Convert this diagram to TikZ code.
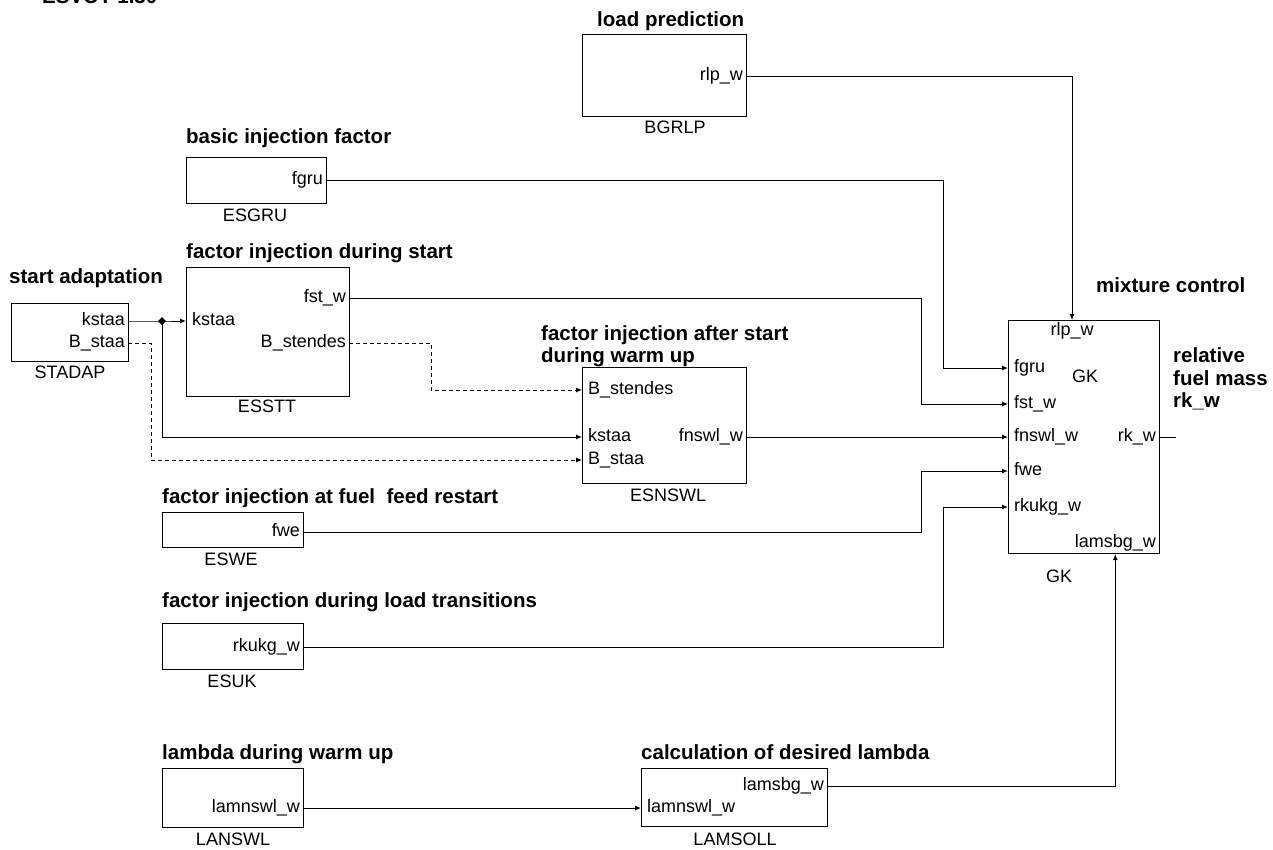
\documentclass[tikz,border=0pt]{standalone}
\usepackage{fontspec}
\setmainfont{Liberation Sans}
\usetikzlibrary{arrows.meta}

\begin{document}
\begin{tikzpicture}[x=1pt, y=-1pt,
  blk/.style={draw, line width=1.2pt, anchor=north west, inner sep=0pt},
  lbl/.style={font=\fontsize{18}{20}\selectfont, inner ysep=0pt, text height=13pt, text depth=4pt},
  sigout/.style={lbl, anchor=east, inner xsep=3pt},
  sigin/.style={lbl, anchor=west, inner xsep=6pt},
  ttl/.style={font=\fontsize{20.5}{23}\selectfont\bfseries, anchor=base west, inner sep=0pt},
  nam/.style={font=\fontsize{18}{20}\selectfont, anchor=base, inner sep=0pt},
  sig/.style={line width=1pt},
  arr/.style={sig, -{Latex[length=6pt,width=5pt]}},
  dsh/.style={arr, dash pattern=on 4pt off 3pt}]
  \useasboundingbox (0,0) rectangle (1273,849);
  \clip (0,0) rectangle (1273,849);
  \node[ttl] (ttop) at (42,3) {ESVOT 1.30};

  % blocks
  \node[blk, minimum width=164pt, minimum height=82pt] (bgrlp) at (582,34) {};
  \node[blk, minimum width=140pt, minimum height=46pt] (esgru) at (186,157) {};
  \node[blk, minimum width=163pt, minimum height=129pt] (esstt) at (186,267) {};
  \node[blk, minimum width=117pt, minimum height=58pt] (stadap) at (11,303) {};
  \node[blk, minimum width=164pt, minimum height=116pt] (esnswl) at (582,367) {};
  \node[blk, minimum width=151pt, minimum height=233pt] (gk) at (1008,320) {};
  \node[blk, minimum width=141pt, minimum height=35pt] (eswe) at (162,512) {};
  \node[blk, minimum width=141pt, minimum height=46pt] (esuk) at (162,623) {};
  \node[blk, minimum width=141pt, minimum height=59pt] (lanswl) at (162,768) {};
  \node[blk, minimum width=186pt, minimum height=58pt] (lamsoll) at (641,768) {};

  % titles
  \node[ttl] (t-bgrlp) at (597,26) {load prediction};
  \node[ttl] (t-esgru) at (186,143) {basic injection factor};
  \node[ttl] (t-esstt) at (186,258) {factor injection during start};
  \node[ttl] (t-stadap) at (9,283) {start adaptation};
  \node[ttl] (t-esnswl) at (541,340) {factor injection after start};
  \node[ttl] (t-esnswl2) at (541,362) {during warm up};
  \node[ttl] (t-gk) at (1096,292) {mixture control};
  \node[ttl] (t-rk1) at (1173,362) {relative};
  \node[ttl] (t-rk2) at (1173,385) {fuel mass};
  \node[ttl] (t-rk3) at (1173,407) {rk\_w};
  \node[ttl] (t-eswe) at (162,503) {factor injection at fuel\ \ feed restart};
  \node[ttl] (t-esuk) at (162,607) {factor injection during load transitions};
  \node[ttl] (t-lanswl) at (162,759) {lambda during warm up};
  \node[ttl] (t-lamsoll) at (641,759) {calculation of desired lambda};

  % names below the blocks
  \foreach \nm/\x/\y in {BGRLP/675/133, ESGRU/255/221, ESSTT/267/412, STADAP/70/378,
      ESNSWL/668/501, GK/1059/582, ESWE/231/565, ESUK/232/687, LANSWL/233/845, LAMSOLL/735/845}
    \node[nam] (n-\nm) at (\x,\y) {\nm};
  \node[lbl] (gk-name) at (1085,378) {GK};

  % outputs
  \node[sigout] (bgrlp-rlp) at (746,76) {rlp\_w};
  \node[sigout] (esgru-fgru) at (326,180) {fgru};
  \node[sigout] (esstt-fst) at (349,298) {fst\_w};
  \node[sigout] (esstt-bst) at (349,343) {B\_stendes};
  \node[sigout] (stadap-kstaa) at (128,321) {kstaa};
  \node[sigout] (stadap-bstaa) at (128,343) {B\_staa};
  \node[sigout] (esnswl-fnswl) at (746,437) {fnswl\_w};
  \node[sigout] (gk-rk) at (1159,437) {rk\_w};
  \node[sigout] (eswe-fwe) at (303,532) {fwe};
  \node[sigout] (esuk-rkukg) at (303,647) {rkukg\_w};
  \node[sigout] (lanswl-lamnswl) at (303,808) {lamnswl\_w};
  \node[sigout] (lamsoll-lamsbg) at (827,786) {lamsbg\_w};

  % inputs
  \node[sigin] (esstt-kstaa) at (186,321) {kstaa};
  \node[sigin] (esnswl-bst) at (582,390) {B\_stendes};
  \node[sigin] (esnswl-kstaa) at (582,437) {kstaa};
  \node[sigin] (esnswl-bstaa) at (582,460) {B\_staa};
  \node[sigin] (gk-fgru) at (1008,368) {fgru};
  \node[sigin] (gk-fst) at (1008,404) {fst\_w};
  \node[sigin] (gk-fnswl) at (1008,437) {fnswl\_w};
  \node[sigin] (gk-fwe) at (1008,471) {fwe};
  \node[sigin] (gk-rkukg) at (1008,507) {rkukg\_w};
  \node[sigin] (lamsoll-lamnswl) at (641,808) {lamnswl\_w};
  \node[lbl, anchor=north, inner sep=2pt] (gk-rlp) at (1072,320) {rlp\_w};
  \node[sigout] (gk-lamsbg) at (1159,543) {lamsbg\_w};

  % bend points
  \coordinate (xa) at (943,0);
  \coordinate (xb) at (921,0);
  \coordinate (xc) at (431,0);
  \coordinate (xd) at (151,0);
  \coordinate (xj) at (162,0);
  \coordinate (jk) at (stadap-kstaa.east -| xj);
  \coordinate (rkout) at (1176,437);

  % connectors
  \draw[arr] (bgrlp-rlp.east) -| (gk-rlp.north);
  \draw[arr] (esgru-fgru.east) -| (xa |- gk-fgru.west) -- (gk-fgru.west);
  \draw[arr] (esstt-fst.east) -| (xb |- gk-fst.west) -- (gk-fst.west);
  \draw[arr] (esnswl-fnswl.east) -- (gk-fnswl.west);
  \draw[arr] (eswe-fwe.east) -| (xb |- gk-fwe.west) -- (gk-fwe.west);
  \draw[arr] (esuk-rkukg.east) -| (xa |- gk-rkukg.west) -- (gk-rkukg.west);
  \draw[sig] (gk-rk.east) -- (rkout);
  \draw[arr] (lanswl-lamnswl.east) -- (lamsoll-lamnswl.west);
  \draw[arr] (lamsoll-lamsbg.east) -| (gk.south -| gk-lamsbg);
  \draw[dsh] (esstt-bst.east) -| (xc |- esnswl-bst.west) -- (esnswl-bst.west);
  \draw[arr] (stadap-kstaa.east) -- (jk) -- (esstt-kstaa.west);
  \draw[arr] (jk) |- (esnswl-kstaa.west);
  \draw[dsh] (stadap-bstaa.east) -| (xd |- esnswl-bstaa.west) -- (esnswl-bstaa.west);
  \fill (jk) +(0,-4) -- +(4,0) -- +(0,4) -- +(-4,0) -- cycle;
\end{tikzpicture}
\end{document}
